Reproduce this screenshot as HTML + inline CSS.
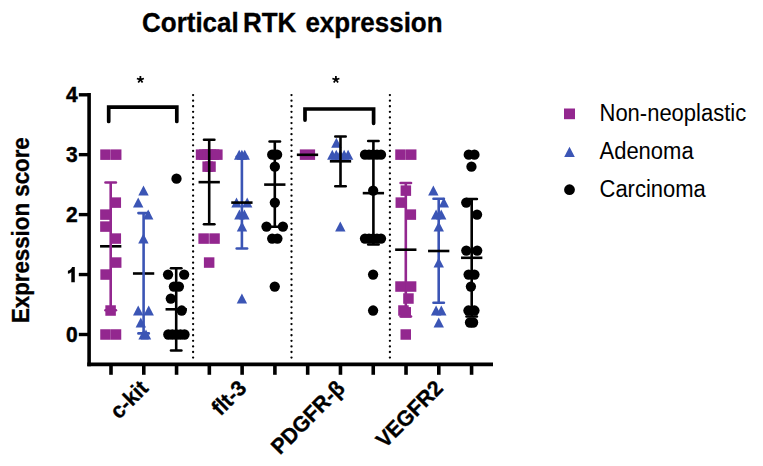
<!DOCTYPE html>
<html><head><meta charset="utf-8"><title>Cortical RTK expression</title>
<style>
html,body{margin:0;padding:0;background:#fff;}
body{width:763px;height:466px;overflow:hidden;}
svg{display:block;}
text{font-family:"Liberation Sans",sans-serif;fill:#000;}
.title{font-size:26px;font-weight:bold;stroke:#000;stroke-width:0.3px;}
.tk{font-size:21px;font-weight:bold;stroke:#000;stroke-width:0.45px;}
.xl{font-size:21px;font-weight:bold;stroke:#000;stroke-width:0.35px;}
.yl{font-size:22.3px;font-weight:bold;stroke:#000;stroke-width:0.3px;}
.lg{font-size:22px;}
.ast{font-size:20px;font-weight:bold;}
</style></head>
<body>
<svg width="763" height="466" viewBox="0 0 763 466">
<rect width="763" height="466" fill="#fff"/>
<text transform="translate(0 32) scale(1 1.045)" class="title"><tspan x="142">Cortical</tspan><tspan x="242.9">RTK</tspan><tspan x="305.4">expression</tspan></text>
<text text-anchor="middle" class="yl" transform="translate(29 230.2) rotate(-90) scale(1 1.06)">Expression score</text>
<line x1="89.1" y1="93.0" x2="89.1" y2="366.2" stroke="#000" stroke-width="3.6"/>
<line x1="87.3" y1="364.4" x2="493" y2="364.4" stroke="#000" stroke-width="3.6"/>
<line x1="78.8" y1="334.5" x2="89" y2="334.5" stroke="#000" stroke-width="3.4"/>
<text transform="translate(77.8 342.1) scale(1 1.07)" text-anchor="end" class="tk">0</text>
<line x1="78.8" y1="274.55" x2="89" y2="274.55" stroke="#000" stroke-width="3.4"/>
<path d="M71.3,282.2 H74.8 V267.1 H72.1 C71.2,269.2 70,270.2 67.9,270.8 V273.8 C69.3,273.5 70.5,272.8 71.3,271.9 Z" fill="#000"/>
<line x1="78.8" y1="214.6" x2="89" y2="214.6" stroke="#000" stroke-width="3.4"/>
<text transform="translate(77.8 222.2) scale(1 1.07)" text-anchor="end" class="tk">2</text>
<line x1="78.8" y1="154.65" x2="89" y2="154.65" stroke="#000" stroke-width="3.4"/>
<text transform="translate(77.8 162.25) scale(1 1.07)" text-anchor="end" class="tk">3</text>
<line x1="78.8" y1="94.8" x2="89" y2="94.8" stroke="#000" stroke-width="3.4"/>
<text transform="translate(77.8 102.4) scale(1 1.07)" text-anchor="end" class="tk">4</text>
<line x1="111" y1="364" x2="111" y2="374.8" stroke="#000" stroke-width="3.6"/>
<line x1="143.78" y1="364" x2="143.78" y2="374.8" stroke="#000" stroke-width="3.6"/>
<line x1="176.56" y1="364" x2="176.56" y2="374.8" stroke="#000" stroke-width="3.6"/>
<line x1="209.34" y1="364" x2="209.34" y2="374.8" stroke="#000" stroke-width="3.6"/>
<line x1="242.12" y1="364" x2="242.12" y2="374.8" stroke="#000" stroke-width="3.6"/>
<line x1="274.9" y1="364" x2="274.9" y2="374.8" stroke="#000" stroke-width="3.6"/>
<line x1="307.68" y1="364" x2="307.68" y2="374.8" stroke="#000" stroke-width="3.6"/>
<line x1="340.46" y1="364" x2="340.46" y2="374.8" stroke="#000" stroke-width="3.6"/>
<line x1="373.24" y1="364" x2="373.24" y2="374.8" stroke="#000" stroke-width="3.6"/>
<line x1="406.02" y1="364" x2="406.02" y2="374.8" stroke="#000" stroke-width="3.6"/>
<line x1="438.8" y1="364" x2="438.8" y2="374.8" stroke="#000" stroke-width="3.6"/>
<line x1="471.58" y1="364" x2="471.58" y2="374.8" stroke="#000" stroke-width="3.6"/>
<line x1="193.1" y1="95.1" x2="193.1" y2="363" stroke="#000" stroke-width="2.3" stroke-linecap="round" stroke-dasharray="0 5.585"/>
<line x1="291.5" y1="95.1" x2="291.5" y2="363" stroke="#000" stroke-width="2.3" stroke-linecap="round" stroke-dasharray="0 5.585"/>
<line x1="389.9" y1="95.1" x2="389.9" y2="363" stroke="#000" stroke-width="2.3" stroke-linecap="round" stroke-dasharray="0 5.585"/>
<line x1="100.05" y1="246.3" x2="121.35" y2="246.3" stroke="#000" stroke-width="2.6"/>
<line x1="110.7" y1="182.5" x2="110.7" y2="310.3" stroke="#93278f" stroke-width="2.6"/>
<line x1="105.5" y1="182.5" x2="115.9" y2="182.5" stroke="#93278f" stroke-width="2.6" stroke-linecap="round"/>
<line x1="105.5" y1="310.3" x2="115.9" y2="310.3" stroke="#93278f" stroke-width="2.6" stroke-linecap="round"/>
<rect x="100.25" y="149.4" width="10.5" height="10.5" fill="#93278f"/>
<rect x="110.95" y="149.4" width="10.5" height="10.5" fill="#93278f"/>
<rect x="110.55" y="197.36" width="10.5" height="10.5" fill="#93278f"/>
<rect x="100.15" y="209.35" width="10.5" height="10.5" fill="#93278f"/>
<rect x="100.15" y="221.34" width="10.5" height="10.5" fill="#93278f"/>
<rect x="110.55" y="233.33" width="10.5" height="10.5" fill="#93278f"/>
<rect x="110.95" y="257.31" width="10.5" height="10.5" fill="#93278f"/>
<rect x="100.35" y="269.3" width="10.5" height="10.5" fill="#93278f"/>
<rect x="105.35" y="305.27" width="10.5" height="10.5" fill="#93278f"/>
<rect x="100.25" y="329.25" width="10.5" height="10.5" fill="#93278f"/>
<rect x="110.75" y="329.25" width="10.5" height="10.5" fill="#93278f"/>
<polygon points="143.5,185.62 148.7,195.62 138.3,195.62" fill="#3b55b5"/>
<polygon points="138.2,197.61 143.4,207.61 133,207.61" fill="#3b55b5"/>
<polygon points="148.2,209.6 153.4,219.6 143,219.6" fill="#3b55b5"/>
<polygon points="143.4,233.58 148.6,243.58 138.2,243.58" fill="#3b55b5"/>
<polygon points="138.2,305.52 143.4,315.52 133,315.52" fill="#3b55b5"/>
<polygon points="148.7,305.52 153.9,315.52 143.5,315.52" fill="#3b55b5"/>
<polygon points="140.8,317.51 146,327.51 135.6,327.51" fill="#3b55b5"/>
<polygon points="143.6,329.5 148.8,339.5 138.4,339.5" fill="#3b55b5"/>
<polygon points="146,329.5 151.2,339.5 140.8,339.5" fill="#3b55b5"/>
<line x1="132.95" y1="273.5" x2="154.25" y2="273.5" stroke="#000" stroke-width="2.6"/>
<line x1="143.6" y1="213.1" x2="143.6" y2="333.4" stroke="#3b55b5" stroke-width="2.6"/>
<line x1="138.4" y1="213.1" x2="148.8" y2="213.1" stroke="#3b55b5" stroke-width="2.6" stroke-linecap="round"/>
<line x1="138.4" y1="333.4" x2="148.8" y2="333.4" stroke="#3b55b5" stroke-width="2.6" stroke-linecap="round"/>
<line x1="176.2" y1="268.2" x2="176.2" y2="350.5" stroke="#000" stroke-width="2.6"/>
<line x1="171" y1="268.2" x2="181.4" y2="268.2" stroke="#000" stroke-width="2.6" stroke-linecap="round"/>
<line x1="171" y1="350.5" x2="181.4" y2="350.5" stroke="#000" stroke-width="2.6" stroke-linecap="round"/>
<line x1="165.55" y1="309.3" x2="186.85" y2="309.3" stroke="#000" stroke-width="2.6"/>
<circle cx="176.5" cy="178.63" r="5.15" fill="#000"/>
<circle cx="168.05" cy="274.55" r="5.15" fill="#000"/>
<circle cx="184.15" cy="274.55" r="5.15" fill="#000"/>
<circle cx="173.9" cy="286.54" r="5.15" fill="#000"/>
<circle cx="178.9" cy="286.54" r="5.15" fill="#000"/>
<circle cx="170.8" cy="298.53" r="5.15" fill="#000"/>
<circle cx="181.7" cy="310.52" r="5.15" fill="#000"/>
<circle cx="168.3" cy="334.5" r="5.15" fill="#000"/>
<circle cx="172.35" cy="334.5" r="5.15" fill="#000"/>
<circle cx="176.4" cy="334.5" r="5.15" fill="#000"/>
<circle cx="180.45" cy="334.5" r="5.15" fill="#000"/>
<circle cx="184.5" cy="334.5" r="5.15" fill="#000"/>
<rect x="195.8" y="149.4" width="10.5" height="10.5" fill="#93278f"/>
<rect x="199.06" y="149.4" width="10.5" height="10.5" fill="#93278f"/>
<rect x="202.32" y="149.4" width="10.5" height="10.5" fill="#93278f"/>
<rect x="205.58" y="149.4" width="10.5" height="10.5" fill="#93278f"/>
<rect x="208.84" y="149.4" width="10.5" height="10.5" fill="#93278f"/>
<rect x="212.1" y="149.4" width="10.5" height="10.5" fill="#93278f"/>
<rect x="202.4" y="161.39" width="10.5" height="10.5" fill="#93278f"/>
<rect x="205.25" y="161.39" width="10.5" height="10.5" fill="#93278f"/>
<rect x="198.4" y="233.33" width="10.5" height="10.5" fill="#93278f"/>
<rect x="209.3" y="233.33" width="10.5" height="10.5" fill="#93278f"/>
<rect x="203.9" y="257.31" width="10.5" height="10.5" fill="#93278f"/>
<line x1="209.2" y1="139.8" x2="209.2" y2="224.3" stroke="#000" stroke-width="2.6"/>
<line x1="204" y1="139.8" x2="214.4" y2="139.8" stroke="#000" stroke-width="2.6" stroke-linecap="round"/>
<line x1="204" y1="224.3" x2="214.4" y2="224.3" stroke="#000" stroke-width="2.6" stroke-linecap="round"/>
<line x1="198.55" y1="182.15" x2="219.85" y2="182.15" stroke="#000" stroke-width="2.6"/>
<line x1="241.9" y1="156.75" x2="241.9" y2="248.5" stroke="#3b55b5" stroke-width="2.6"/>
<line x1="236.7" y1="156.75" x2="247.1" y2="156.75" stroke="#3b55b5" stroke-width="2.6" stroke-linecap="round"/>
<line x1="236.7" y1="248.5" x2="247.1" y2="248.5" stroke="#3b55b5" stroke-width="2.6" stroke-linecap="round"/>
<polygon points="239.2,149.65 244.4,159.65 234,159.65" fill="#3b55b5"/>
<polygon points="241.9,149.65 247.1,159.65 236.7,159.65" fill="#3b55b5"/>
<polygon points="244.7,149.65 249.9,159.65 239.5,159.65" fill="#3b55b5"/>
<polygon points="236.5,197.61 241.7,207.61 231.3,207.61" fill="#3b55b5"/>
<polygon points="247.2,197.61 252.4,207.61 242,207.61" fill="#3b55b5"/>
<polygon points="239.4,209.6 244.6,219.6 234.2,219.6" fill="#3b55b5"/>
<polygon points="244.4,209.6 249.6,219.6 239.2,219.6" fill="#3b55b5"/>
<polygon points="242,221.59 247.2,231.59 236.8,231.59" fill="#3b55b5"/>
<polygon points="241.9,293.53 247.1,303.53 236.7,303.53" fill="#3b55b5"/>
<line x1="231.25" y1="202.6" x2="252.55" y2="202.6" stroke="#000" stroke-width="2.6"/>
<line x1="274.8" y1="141.55" x2="274.8" y2="226.8" stroke="#000" stroke-width="2.6"/>
<line x1="269.6" y1="141.55" x2="280" y2="141.55" stroke="#000" stroke-width="2.6" stroke-linecap="round"/>
<line x1="269.6" y1="226.8" x2="280" y2="226.8" stroke="#000" stroke-width="2.6" stroke-linecap="round"/>
<line x1="264.15" y1="184.6" x2="285.45" y2="184.6" stroke="#000" stroke-width="2.6"/>
<circle cx="272.2" cy="154.65" r="5.15" fill="#000"/>
<circle cx="274.65" cy="154.65" r="5.15" fill="#000"/>
<circle cx="277.1" cy="154.65" r="5.15" fill="#000"/>
<circle cx="274.85" cy="166.64" r="5.15" fill="#000"/>
<circle cx="274.85" cy="202.61" r="5.15" fill="#000"/>
<circle cx="266.5" cy="226.59" r="5.15" fill="#000"/>
<circle cx="282.9" cy="226.59" r="5.15" fill="#000"/>
<circle cx="272.2" cy="238.58" r="5.15" fill="#000"/>
<circle cx="277.4" cy="238.58" r="5.15" fill="#000"/>
<circle cx="274.75" cy="286.54" r="5.15" fill="#000"/>
<rect x="299.8" y="149.4" width="15.3" height="10.5" fill="#93278f"/>
<line x1="296.85" y1="154.8" x2="318.15" y2="154.8" stroke="#000" stroke-width="2.6"/>
<polygon points="336.4,137.66 341.6,147.66 331.2,147.66" fill="#3b55b5"/>
<polygon points="332.3,149.65 337.5,159.65 327.1,159.65" fill="#3b55b5"/>
<polygon points="336.25,149.65 341.45,159.65 331.05,159.65" fill="#3b55b5"/>
<polygon points="340.2,149.65 345.4,159.65 335,159.65" fill="#3b55b5"/>
<polygon points="344.15,149.65 349.35,159.65 338.95,159.65" fill="#3b55b5"/>
<polygon points="348.1,149.65 353.3,159.65 342.9,159.65" fill="#3b55b5"/>
<polygon points="340.3,221.59 345.5,231.59 335.1,231.59" fill="#3b55b5"/>
<line x1="340.5" y1="136.5" x2="340.5" y2="186.3" stroke="#000" stroke-width="2.6"/>
<line x1="335.3" y1="136.5" x2="345.7" y2="136.5" stroke="#000" stroke-width="2.6" stroke-linecap="round"/>
<line x1="335.3" y1="186.3" x2="345.7" y2="186.3" stroke="#000" stroke-width="2.6" stroke-linecap="round"/>
<line x1="329.85" y1="161.3" x2="351.15" y2="161.3" stroke="#000" stroke-width="2.6"/>
<line x1="373.4" y1="141" x2="373.4" y2="244.5" stroke="#000" stroke-width="2.6"/>
<line x1="368.2" y1="141" x2="378.6" y2="141" stroke="#000" stroke-width="2.6" stroke-linecap="round"/>
<line x1="368.2" y1="244.5" x2="378.6" y2="244.5" stroke="#000" stroke-width="2.6" stroke-linecap="round"/>
<line x1="362.75" y1="193.15" x2="384.05" y2="193.15" stroke="#000" stroke-width="2.6"/>
<circle cx="365" cy="154.65" r="5.15" fill="#000"/>
<circle cx="369" cy="154.65" r="5.15" fill="#000"/>
<circle cx="373" cy="154.65" r="5.15" fill="#000"/>
<circle cx="377" cy="154.65" r="5.15" fill="#000"/>
<circle cx="381" cy="154.65" r="5.15" fill="#000"/>
<circle cx="365" cy="238.58" r="5.15" fill="#000"/>
<circle cx="369" cy="238.58" r="5.15" fill="#000"/>
<circle cx="373" cy="238.58" r="5.15" fill="#000"/>
<circle cx="377" cy="238.58" r="5.15" fill="#000"/>
<circle cx="381" cy="238.58" r="5.15" fill="#000"/>
<circle cx="373.15" cy="190.62" r="5.15" fill="#000"/>
<circle cx="373.1" cy="274.55" r="5.15" fill="#000"/>
<circle cx="373.1" cy="310.52" r="5.15" fill="#000"/>
<line x1="405.8" y1="183" x2="405.8" y2="316.5" stroke="#93278f" stroke-width="2.6"/>
<line x1="400.6" y1="183" x2="411" y2="183" stroke="#93278f" stroke-width="2.6" stroke-linecap="round"/>
<line x1="400.6" y1="316.5" x2="411" y2="316.5" stroke="#93278f" stroke-width="2.6" stroke-linecap="round"/>
<rect x="395.25" y="149.4" width="10.5" height="10.5" fill="#93278f"/>
<rect x="405.95" y="149.4" width="10.5" height="10.5" fill="#93278f"/>
<rect x="400.6" y="185.37" width="10.5" height="10.5" fill="#93278f"/>
<rect x="395.55" y="197.36" width="10.5" height="10.5" fill="#93278f"/>
<rect x="405.6" y="209.35" width="10.5" height="10.5" fill="#93278f"/>
<rect x="395.25" y="281.29" width="10.5" height="10.5" fill="#93278f"/>
<rect x="405.85" y="281.29" width="10.5" height="10.5" fill="#93278f"/>
<rect x="403.2" y="293.28" width="10.5" height="10.5" fill="#93278f"/>
<rect x="398.2" y="305.27" width="10.5" height="10.5" fill="#93278f"/>
<rect x="400.5" y="307.07" width="10.5" height="10.5" fill="#93278f"/>
<rect x="400.5" y="329.25" width="10.5" height="10.5" fill="#93278f"/>
<line x1="395.15" y1="249.7" x2="416.45" y2="249.7" stroke="#000" stroke-width="2.6"/>
<line x1="438.7" y1="198.75" x2="438.7" y2="302.8" stroke="#3b55b5" stroke-width="2.6"/>
<line x1="433.5" y1="198.75" x2="443.9" y2="198.75" stroke="#3b55b5" stroke-width="2.6" stroke-linecap="round"/>
<line x1="433.5" y1="302.8" x2="443.9" y2="302.8" stroke="#3b55b5" stroke-width="2.6" stroke-linecap="round"/>
<polygon points="433.35,185.62 438.55,195.62 428.15,195.62" fill="#3b55b5"/>
<polygon points="443.85,197.61 449.05,207.61 438.65,207.61" fill="#3b55b5"/>
<polygon points="436.1,209.6 441.3,219.6 430.9,219.6" fill="#3b55b5"/>
<polygon points="441.2,209.6 446.4,219.6 436,219.6" fill="#3b55b5"/>
<polygon points="438.75,221.59 443.95,231.59 433.55,231.59" fill="#3b55b5"/>
<polygon points="438.75,257.56 443.95,267.56 433.55,267.56" fill="#3b55b5"/>
<polygon points="436.1,305.52 441.3,315.52 430.9,315.52" fill="#3b55b5"/>
<polygon points="441.3,305.52 446.5,315.52 436.1,315.52" fill="#3b55b5"/>
<polygon points="438.75,317.51 443.95,327.51 433.55,327.51" fill="#3b55b5"/>
<line x1="428.05" y1="251" x2="449.35" y2="251" stroke="#000" stroke-width="2.6"/>
<line x1="471.7" y1="199" x2="471.7" y2="316.5" stroke="#000" stroke-width="2.6"/>
<line x1="466.5" y1="199" x2="476.9" y2="199" stroke="#000" stroke-width="2.6" stroke-linecap="round"/>
<line x1="466.5" y1="316.5" x2="476.9" y2="316.5" stroke="#000" stroke-width="2.6" stroke-linecap="round"/>
<line x1="461.05" y1="257.8" x2="482.35" y2="257.8" stroke="#000" stroke-width="2.6"/>
<circle cx="468.75" cy="154.65" r="5.15" fill="#000"/>
<circle cx="474.45" cy="154.65" r="5.15" fill="#000"/>
<circle cx="471.45" cy="166.64" r="5.15" fill="#000"/>
<circle cx="466.25" cy="202.61" r="5.15" fill="#000"/>
<circle cx="477.05" cy="214.6" r="5.15" fill="#000"/>
<circle cx="466.3" cy="250.57" r="5.15" fill="#000"/>
<circle cx="477.2" cy="250.57" r="5.15" fill="#000"/>
<circle cx="468.6" cy="274.55" r="5.15" fill="#000"/>
<circle cx="474.45" cy="274.55" r="5.15" fill="#000"/>
<circle cx="470.9" cy="286.54" r="5.15" fill="#000"/>
<circle cx="468.45" cy="310.52" r="5.15" fill="#000"/>
<circle cx="474.45" cy="310.52" r="5.15" fill="#000"/>
<circle cx="470" cy="322.51" r="5.15" fill="#000"/>
<circle cx="473.1" cy="322.51" r="5.15" fill="#000"/>
<path d="M108.7,121.4 V107.2 H176.8 V121.4" fill="none" stroke="#000" stroke-width="3.7" stroke-linecap="round" stroke-linejoin="miter"/>
<path d="M305,120.1 V109 H373.6 V123.3" fill="none" stroke="#000" stroke-width="3.7" stroke-linecap="round" stroke-linejoin="miter"/>
<path d="M140.4,79.6L140.4,75.9M140.4,79.6L143.92,78.46M140.4,79.6L136.88,78.46M140.4,79.6L142.57,82.59M140.4,79.6L138.23,82.59" stroke="#000" stroke-width="1.75" fill="none"/>
<path d="M335.9,79.6L335.9,75.9M335.9,79.6L339.42,78.46M335.9,79.6L332.38,78.46M335.9,79.6L338.07,82.59M335.9,79.6L333.73,82.59" stroke="#000" stroke-width="1.75" fill="none"/>
<text text-anchor="end" class="xl" transform="translate(149.4 389.6) rotate(-45) scale(1 1.04)">c-kit</text>
<text text-anchor="end" class="xl" transform="translate(247.7 389.6) rotate(-45) scale(1 1.04)">flt-3</text>
<text text-anchor="end" class="xl" transform="translate(346 389.6) rotate(-45) scale(1 1.04)">PDGFR-&#946;</text>
<text text-anchor="end" class="xl" transform="translate(444.3 389.6) rotate(-45) scale(1 1.04)">VEGFR2</text>
<rect x="564" y="108.5" width="11" height="10.7" fill="#93278f"/>
<polygon points="569.5,146.8 574.8,156.9 564.2,156.9" fill="#3b55b5"/>
<circle cx="569.5" cy="189.7" r="5.4" fill="#000"/>
<text transform="translate(599.5 121) scale(1 1.06)" class="lg">Non-neoplastic</text>
<text transform="translate(599.5 159) scale(1 1.06)" class="lg">Adenoma</text>
<text transform="translate(599.5 196.6) scale(1 1.06)" class="lg">Carcinoma</text>
</svg>
</body></html>
